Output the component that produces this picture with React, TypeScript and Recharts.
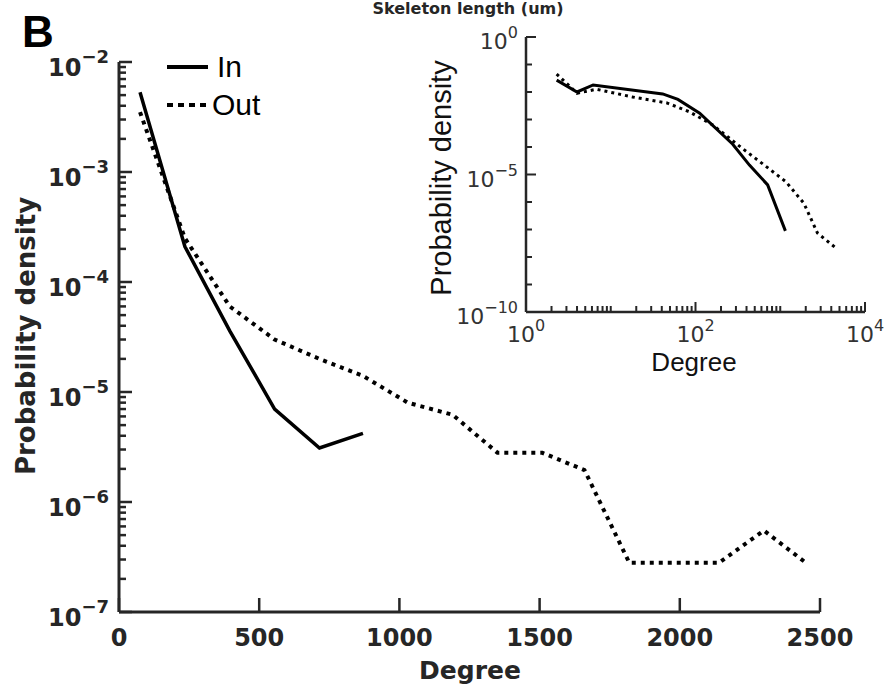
import { LineChart, Line, XAxis, YAxis } from 'recharts';

// main panel: linear degree vs log density
const inDegree = [75, 235, 395, 555, 715, 870];
const inDensity = [5.3e-3, 2.1e-4, 3.6e-5, 7.0e-6, 3.1e-6, 4.2e-6];
const outDegree = [75, 235, 395, 555, 715, 870, 1030, 1190, 1350, 1510, 1660, 1820, 1980, 2140, 2300, 2450];
const outDensity = [
  3.5e-3, 2.5e-4, 6.0e-5, 3.0e-5, 2.0e-5, 1.4e-5, 8.0e-6, 6.2e-6, 2.8e-6, 2.8e-6, 1.95e-6, 2.8e-7, 2.8e-7,
  2.8e-7, 5.5e-7, 2.8e-7,
];
const mainXTicks = [0, 500, 1000, 1500, 2000, 2500];
const mainDecades = [-7, -6, -5, -4, -3, -2];

// inset: log-log
const insetInDegree = [2.3, 4, 6.2, 41, 62, 112, 275, 433, 710, 1150];
const insetInDensity = [0.027, 0.01, 0.018, 0.0085, 0.0054, 0.0017, 1.26e-4, 2.2e-5, 4.2e-6, 8.9e-8];
const insetOutDegree = [2.3, 4, 6.8, 18, 46, 85, 160, 355, 690, 1170, 1900, 2750, 4550];
const insetOutDensity = [0.045, 0.009, 0.0126, 0.0066, 0.004, 0.0019, 6.3e-4, 9e-5, 1.9e-5, 5.4e-6, 9e-7, 7.4e-8, 2.1e-8];
const insetXDecades = [0, 1, 2, 3, 4];
const insetXLabeled = [0, 2, 4];
const insetYDecades = [-10, -9, -8, -7, -6, -5, -4, -3, -2, -1, 0];
const insetYLabeled = [-10, -5, 0];

const toPoints = (xs: number[], ys: number[]) => xs.map((x, i) => ({ degree: x, density: ys[i] }));
const mainIn = toPoints(inDegree, inDensity);
const mainOut = toPoints(outDegree, outDensity);
const insetIn = toPoints(insetInDegree, insetInDensity);
const insetOut = toPoints(insetOutDegree, insetOutDensity);

const mainYTicks = mainDecades.map((e) => Math.pow(10, e));
const insetXTicks = insetXDecades.map((e) => Math.pow(10, e));
const insetYTicks = insetYDecades.map((e) => Math.pow(10, e));

// chart boxes (plot area in page pixels)
const MAIN = { width: 886, height: 691, top: 62, right: 66, bottom: 79, left: 119 };
const INSET = { top: 37, right: 21, bottom: 379, left: 526 };
const MAIN_DECADE_PX = (MAIN.height - MAIN.top - MAIN.bottom) / (mainDecades.length - 1);
const INSET_DECADE_PX = (MAIN.width - INSET.left - INSET.right) / (insetXDecades.length - 1);
const MINOR = [2, 3, 4, 5, 6, 7, 8, 9];

const AXIS = '#262626';
const FONT = '"DejaVu Sans", sans-serif';
const INSET_FONT = '"Liberation Sans", Arial, sans-serif';

const exponentOf = (v: number) => {
  const e = Math.round(Math.log10(v));
  return Math.abs(v / Math.pow(10, e) - 1) < 1e-6 ? e : null;
};

function MainYTick(props: any) {
  const x = Number(props.x);
  const y = Number(props.y);
  const e = exponentOf(props.payload.value) as number;
  const top = e === mainDecades[mainDecades.length - 1];
  return (
    <g>
      <rect x={x} y={y - 1.25} width={13} height={2.5} fill={AXIS} />
      {!top &&
        MINOR.map((m) => (
          <rect key={m} x={x} y={y - Math.log10(m) * MAIN_DECADE_PX - 1.25} width={7} height={2.5} fill={AXIS} />
        ))}
      <text x={x - 10} y={y + 14} textAnchor="end" fill={AXIS} fontFamily={FONT} fontWeight={700}>
        <tspan fontSize={24}>10</tspan>
        <tspan fontSize={18} dy={-13}>{'\u2212' + Math.abs(e)}</tspan>
      </text>
    </g>
  );
}

function MainXTick(props: any) {
  const x = Number(props.x);
  const y = Number(props.y);
  return (
    <g>
      <rect x={x - 1.25} y={y - 14} width={2.5} height={14} fill={AXIS} />
      <text x={x} y={y + 34} textAnchor="middle" fill={AXIS} fontFamily={FONT} fontWeight={700} fontSize={24}>
        {props.payload.value}
      </text>
    </g>
  );
}

function InsetYTick(props: any) {
  const x = Number(props.x);
  const y = Number(props.y);
  const e = exponentOf(props.payload.value);
  if (e === null) return <g />;
  const labeled = insetYLabeled.includes(e);
  return (
    <g>
      <rect x={x} y={y - 1} width={labeled ? 10 : 6} height={2} fill={AXIS} />
      {labeled && (
        <text x={x - 8} y={y + 12} textAnchor="end" fill="#333" fontFamily={FONT}>
          <tspan fontSize={22}>10</tspan>
          <tspan fontSize={16} dy={-11}>{e === 0 ? '0' : '\u2212' + Math.abs(e)}</tspan>
        </text>
      )}
    </g>
  );
}

function InsetXTick(props: any) {
  const x = Number(props.x);
  const y = Number(props.y);
  const e = exponentOf(props.payload.value);
  if (e === null) return <g />;
  const labeled = insetXLabeled.includes(e);
  const last = e === insetXDecades[insetXDecades.length - 1];
  return (
    <g>
      <rect x={x - 1} y={y - (labeled ? 10 : 6)} width={2} height={labeled ? 10 : 6} fill={AXIS} />
      {!last &&
        MINOR.map((m) => (
          <rect key={m} x={x + Math.log10(m) * INSET_DECADE_PX - 1} y={y - 6} width={2} height={6} fill={AXIS} />
        ))}
      {labeled && (
        <text x={x} y={y + 30} textAnchor="middle" fill="#333" fontFamily={FONT}>
          <tspan fontSize={22}>10</tspan>
          <tspan fontSize={16} dy={-11}>{String(e)}</tspan>
        </text>
      )}
    </g>
  );
}

export default function App() {
  return (
    <div style={{ position: 'absolute', left: 0, top: 0, width: 886, height: 691, background: '#fff', overflow: 'hidden' }}>
      <div style={{ position: 'absolute', left: 0, top: 0 }}>
        <LineChart width={MAIN.width} height={MAIN.height} margin={{ top: MAIN.top, right: MAIN.right, bottom: MAIN.bottom - 60, left: MAIN.left - 100 }}>
          <XAxis
            type="number"
            dataKey="degree"
            domain={[0, 2500]}
            ticks={mainXTicks}
            interval={0}
            height={60}
            tickSize={0}
            tickMargin={0}
            tickLine={false}
            axisLine={{ stroke: AXIS, strokeWidth: 3 }}
            tick={(p: any) => <MainXTick {...p} />}
            allowDataOverflow
          />
          <YAxis
            type="number"
            scale="log"
            domain={[1e-7, 1e-2]}
            ticks={mainYTicks}
            interval={0}
            width={100}
            tickSize={0}
            tickMargin={0}
            tickLine={false}
            axisLine={{ stroke: AXIS, strokeWidth: 3 }}
            tick={(p: any) => <MainYTick {...p} />}
            allowDataOverflow
          />
          <Line data={mainOut} dataKey="density" stroke="#000" strokeWidth={4} strokeDasharray="4 5" dot={false} isAnimationActive={false} />
          <Line data={mainIn} dataKey="density" stroke="#000" strokeWidth={3.5} dot={false} isAnimationActive={false} />
        </LineChart>
      </div>
      <div style={{ position: 'absolute', left: 0, top: 0 }}>
        <LineChart width={MAIN.width} height={MAIN.height} margin={{ top: INSET.top, right: INSET.right, bottom: INSET.bottom - 60, left: INSET.left - 100 }}>
          <XAxis
            type="number"
            dataKey="degree"
            scale="log"
            domain={[1, 10000]}
            ticks={insetXTicks}
            interval={0}
            height={60}
            tickSize={0}
            tickMargin={0}
            tickLine={false}
            axisLine={{ stroke: AXIS, strokeWidth: 2.5 }}
            tick={(p: any) => <InsetXTick {...p} />}
            allowDataOverflow
          />
          <YAxis
            type="number"
            scale="log"
            domain={[1e-10, 1]}
            ticks={insetYTicks}
            interval={0}
            width={100}
            tickSize={0}
            tickMargin={0}
            tickLine={false}
            axisLine={{ stroke: AXIS, strokeWidth: 2.5 }}
            tick={(p: any) => <InsetYTick {...p} />}
            allowDataOverflow
          />
          <Line data={insetOut} dataKey="density" stroke="#000" strokeWidth={3} strokeDasharray="3 4" dot={false} isAnimationActive={false} />
          <Line data={insetIn} dataKey="density" stroke="#000" strokeWidth={3} dot={false} isAnimationActive={false} />
        </LineChart>
      </div>
      <svg width={886} height={691} style={{ position: 'absolute', left: 0, top: 0, pointerEvents: 'none' }}>
        <text x={468} y={14} textAnchor="middle" fontFamily={FONT} fontWeight={700} fontSize={16} fill={AXIS}>
          Skeleton length (um)
        </text>
        <text x={22} y={47} fontFamily={INSET_FONT} fontWeight={700} fontSize={44} fill="#000">
          B
        </text>
        <text x={35} y={336} transform="rotate(-90 35 336)" textAnchor="middle" fontFamily={FONT} fontWeight={700} fontSize={26} fill={AXIS}>
          Probability density
        </text>
        <text x={470} y={679} textAnchor="middle" fontFamily={FONT} fontWeight={700} fontSize={25} fill={AXIS}>
          Degree
        </text>
        <line x1={167} y1={67} x2={208} y2={67} stroke="#000" strokeWidth={4} />
        <text x={217} y={77} fontFamily={INSET_FONT} fontSize={30} fill="#000">In</text>
        <line x1={167} y1={105} x2={208} y2={105} stroke="#000" strokeWidth={4} strokeDasharray="6 5" />
        <text x={212} y={115} fontFamily={INSET_FONT} fontSize={30} fill="#000">Out</text>
        <text x={451} y={178} transform="rotate(-90 451 178)" textAnchor="middle" fontFamily={INSET_FONT} fontSize={29} fill="#111">
          Probability density
        </text>
        <text x={694} y={371} textAnchor="middle" fontFamily={INSET_FONT} fontSize={26} fill="#111">
          Degree
        </text>
      </svg>
    </div>
  );
}
